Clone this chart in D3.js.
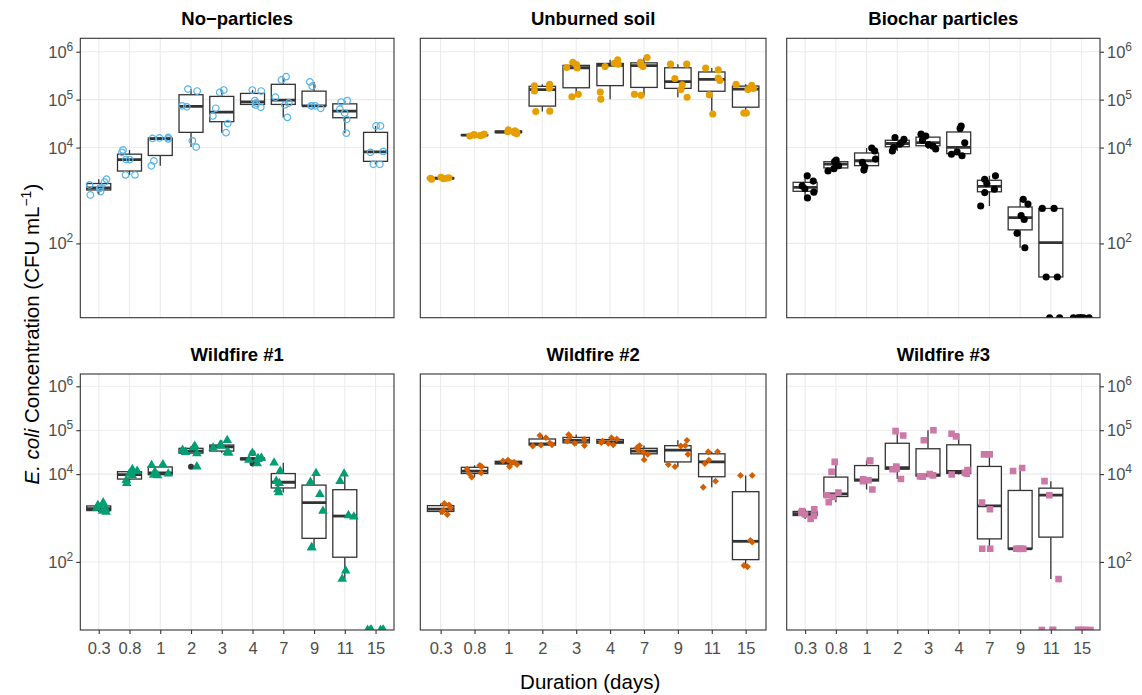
<!DOCTYPE html>
<html><head><meta charset="utf-8">
<script src="https://cdn.jsdelivr.net/npm/d3@7"></script>
<style>
body{margin:0;background:#fff}
svg{display:block}
text{font-family:"Liberation Sans",Arial,Helvetica,sans-serif}
</style>
</head><body>
<svg id="chart" width="1142" height="695"></svg>
<script>
// ---------------- data (log10 CFU mL^-1; null = zero count) ----------------
const days = ["0.3","0.8","1","2","3","4","7","9","11","15"];
const panelTitles = ["No\u2212particles","Unburned soil","Biochar particles","Wildfire #1","Wildfire #2","Wildfire #3"];

const noParticlesLog10 = [
  [3.34,3.28,3.22,3.16,3.15,3.08,3.01],
  [3.43,3.43,3.75,3.75,3.90,3.95],
  [3.62,3.72,4.18,4.19,4.20,4.21],
  [4.01,4.14,4.85,4.87,5.18,5.22],
  [4.31,4.50,4.66,4.82,5.15,5.20],
  [4.84,4.89,4.93,4.98,5.18,5.20],
  [4.63,4.89,4.93,5.05,5.41,5.48],
  [4.82,4.87,4.87,4.87,5.28,5.37],
  [4.30,4.59,4.72,4.80,4.95,4.98],
  [3.65,3.65,3.90,3.92,4.45,4.45]
];
const unburnedSoilLog10 = [
  [3.34,3.35,3.36,3.36,3.37,3.38],
  [4.24,4.25,4.26,4.26,4.27,4.28],
  [4.29,4.31,4.32,4.33,4.35,4.37],
  [4.75,4.76,5.18,5.24,5.29,5.32],
  [5.06,5.11,5.66,5.67,5.73,5.78],
  [5.01,5.16,5.69,5.74,5.76,5.83],
  [5.09,5.11,5.69,5.73,5.78,5.88],
  [5.05,5.21,5.31,5.44,5.74,5.74],
  [4.70,5.10,5.40,5.45,5.62,5.66],
  [4.72,4.72,5.21,5.23,5.30,5.32]
];
const biocharLog10 = [
  [2.95,3.07,3.14,3.20,3.30,3.41],
  [3.51,3.56,3.62,3.69,3.71,3.74],
  [3.53,3.60,3.69,3.76,3.93,3.99],
  [3.93,4.00,4.07,4.10,4.17,4.21],
  [3.97,4.03,4.06,4.15,4.24,4.28],
  [3.83,3.86,3.91,4.10,4.40,4.45],
  [2.78,3.06,3.13,3.25,3.34,3.41],
  [1.91,2.21,2.50,2.58,2.82,2.92],
  [1.30,1.30,2.73,2.73,null,null],
  [null,null,null,null,null,null]
];
const wildfire1Log10 = [
  [3.14,3.16,3.20,3.23,3.29,3.35],
  [3.79,3.86,3.97,4.01,4.07,4.11],
  [3.97,3.98,4.01,4.05,4.20,4.22],
  [4.17,4.47,4.50,4.55,4.60,4.64],
  [4.48,4.50,4.60,4.64,4.67,4.77],
  [4.24,4.32,4.34,4.36,4.37,4.48],
  [3.58,3.65,3.79,3.84,4.07,4.26],
  [2.33,2.33,3.16,3.54,3.82,4.02],
  [1.61,1.80,3.03,3.06,3.84,4.01],
  [null,null,null,null,null,null]
];
const wildfire2Log10 = [
  [3.08,3.14,3.18,3.23,3.30,3.33],
  [3.93,4.01,4.03,4.11,4.17,4.20],
  [4.17,4.22,4.26,4.27,4.30,4.32],
  [4.64,4.66,4.67,4.71,4.83,4.88],
  [4.65,4.70,4.75,4.79,4.85,4.90],
  [4.67,4.70,4.72,4.75,4.80,4.83],
  [4.33,4.45,4.50,4.55,4.60,4.65],
  [4.17,4.22,4.45,4.64,4.65,4.77],
  [3.70,3.84,4.24,4.32,4.51,4.51],
  [1.89,1.92,2.45,2.49,3.97,3.97]
];
const wildfire3Log10 = [
  [2.98,3.05,3.08,3.12,3.16,3.20],
  [3.36,3.48,3.52,3.58,4.05,4.28],
  [3.65,3.84,3.86,3.88,4.30,4.31],
  [3.89,4.11,4.12,4.17,4.88,4.98],
  [3.94,3.95,3.97,4.00,4.77,5.00],
  [3.99,4.01,4.03,4.09,4.86,4.92],
  [2.30,2.30,3.20,3.35,4.45,4.45],
  [2.30,2.30,2.30,2.30,4.07,4.14],
  [1.61,3.52,3.84,null,null,null],
  [null,null,null,null,null,null]
];
const panelData = [noParticlesLog10, unburnedSoilLog10, biocharLog10, wildfire1Log10, wildfire2Log10, wildfire3Log10];
const panelColors = ["#56B4E9","#E69F00","#000000","#009E73","#D55E00","#CC79A7"];
const yTickValues = [1e2, 1e4, 1e5, 1e6];
const yTickExponents = ["2","4","5","6"];

// ---------------- layout ----------------
const colX = [[80.3, 394], [420.3, 766], [786.7, 1100]];
const rowY = [[38.3, 317.7], [374, 630]];
const yDomain = [Math.pow(10, 0.45), Math.pow(10, 6.28)];
const boxColor = "#333333";
const gridColor = "#EBEBEB";
const tickTextColor = "#4D4D4D";

const svg = d3.select("#chart");
const defs = svg.append("defs");

function jit(p, c, i) {
  const s = Math.sin((p * 97 + c * 31 + i * 13 + 1) * 12.9898) * 43758.5453;
  return (s - Math.floor(s)) * 2 - 1;
}

const symbolFor = [
  {type: d3.symbolCircle, size: 34, fill: false},
  {type: d3.symbolCircle, size: 40, fill: true},
  {type: d3.symbolCircle, size: 40, fill: true},
  {type: d3.symbolTriangle, size: 40, fill: true},
  {type: d3.symbolDiamond2 || d3.symbolDiamond, size: 30, fill: true},
  {type: d3.symbolSquare, size: 44, fill: true}
];

panelData.forEach((groups, p) => {
  const row = Math.floor(p / 3), col = p % 3;
  const [x0, x1] = colX[col];
  const [y0, y1] = rowY[row];
  const x = d3.scalePoint().domain(days).range([x0, x1]).padding(0.6);
  const y = d3.scaleLog().domain(yDomain).range([y1, y0]);
  const step = x.step();
  const bw = step * 0.78;

  const g = svg.append("g");
  const clipId = "clip" + p;
  defs.append("clipPath").attr("id", clipId).append("rect")
    .attr("x", x0).attr("y", y0).attr("width", x1 - x0).attr("height", y1 - y0);

  // background
  g.append("rect").attr("x", x0).attr("y", y0).attr("width", x1 - x0).attr("height", y1 - y0).attr("fill", "#fff");
  // grid
  g.selectAll(".hg").data(yTickValues).join("line")
    .attr("x1", x0).attr("x2", x1).attr("y1", d => y(d)).attr("y2", d => y(d))
    .attr("stroke", gridColor).attr("stroke-width", 1.1);
  g.selectAll(".vg").data(days).join("line")
    .attr("x1", d => x(d)).attr("x2", d => x(d)).attr("y1", y0).attr("y2", y1)
    .attr("stroke", gridColor).attr("stroke-width", 1.1);

  const plot = g.append("g").attr("clip-path", `url(#${clipId})`);

  // boxplots
  groups.forEach((vals, c) => {
    const fin = vals.filter(v => v !== null).sort(d3.ascending);
    if (fin.length === 0) return;
    const q1 = d3.quantile(fin, 0.25), med = d3.quantile(fin, 0.5), q3 = d3.quantile(fin, 0.75);
    const iqr = q3 - q1;
    const lo = d3.min(fin.filter(v => v >= q1 - 1.5 * iqr - 1e-9));
    const hi = d3.max(fin.filter(v => v <= q3 + 1.5 * iqr + 1e-9));
    const outs = fin.filter(v => v < lo || v > hi);
    const cx = x(days[c]);
    const Y = v => y(Math.pow(10, v));
    plot.append("line").attr("x1", cx).attr("x2", cx).attr("y1", Y(hi)).attr("y2", Y(q3))
      .attr("stroke", boxColor).attr("stroke-width", 1.3);
    plot.append("line").attr("x1", cx).attr("x2", cx).attr("y1", Y(q1)).attr("y2", Y(lo))
      .attr("stroke", boxColor).attr("stroke-width", 1.3);
    plot.append("rect").attr("x", cx - bw / 2).attr("width", bw)
      .attr("y", Y(q3)).attr("height", Math.max(0, Y(q1) - Y(q3)))
      .attr("fill", "#fff").attr("stroke", boxColor).attr("stroke-width", 1.3);
    plot.append("line").attr("x1", cx - bw / 2).attr("x2", cx + bw / 2).attr("y1", Y(med)).attr("y2", Y(med))
      .attr("stroke", boxColor).attr("stroke-width", 2.8);
    outs.forEach(v => {
      plot.append("circle").attr("cx", cx).attr("cy", Y(v)).attr("r", 3).attr("fill", boxColor);
    });
  });

  // jittered points
  const sym = symbolFor[p];
  const shape = d3.symbol().type(sym.type).size(sym.size);
  groups.forEach((vals, c) => {
    vals.forEach((v, i) => {
      const px = x(days[c]) + jit(p, c, i) * step * 0.3;
      const py = v === null ? y1 : y(Math.pow(10, v));
      const path = plot.append("path").attr("d", shape())
        .attr("transform", `translate(${px},${py})`);
      if (sym.fill) path.attr("fill", panelColors[p]);
      else path.attr("fill", "none").attr("stroke", panelColors[p]).attr("stroke-width", 1.2);
    });
  });

  // border
  g.append("rect").attr("x", x0).attr("y", y0).attr("width", x1 - x0).attr("height", y1 - y0)
    .attr("fill", "none").attr("stroke", boxColor).attr("stroke-width", 1.1);

  // strip title
  svg.append("text").attr("x", (x0 + x1) / 2).attr("y", y0 - 13.5)
    .attr("text-anchor", "middle").attr("font-weight", "bold").attr("font-size", 18.5)
    .attr("fill", "#000").text(panelTitles[p]);

  // y axis (left on col 0, right on col 2)
  if (col === 0 || col === 2) {
    const left = col === 0;
    const ax = left ? d3.axisLeft(y) : d3.axisRight(y);
    ax.tickValues(yTickValues).tickSize(4).tickSizeOuter(0).tickFormat(() => "");
    const axg = svg.append("g").attr("transform", `translate(${left ? x0 : x1},0)`).call(ax);
    axg.select(".domain").remove();
    axg.selectAll(".tick line").attr("stroke", boxColor).attr("stroke-width", 1.1);
    yTickValues.forEach((t, k) => {
      const tx = svg.append("text")
        .attr("x", left ? x0 - 7 : x1 + 7).attr("y", y(t) + 6)
        .attr("text-anchor", left ? "end" : "start")
        .attr("font-size", 16.5).attr("fill", tickTextColor);
      tx.append("tspan").text("10");
      tx.append("tspan").attr("dy", -7).attr("font-size", 12).text(yTickExponents[k]);
    });
  }

  // x axis on bottom row
  if (row === 1) {
    const ax = d3.axisBottom(x).tickSize(4).tickSizeOuter(0);
    const axg = svg.append("g").attr("transform", `translate(0,${y1})`).call(ax);
    axg.select(".domain").remove();
    axg.selectAll(".tick line").attr("stroke", boxColor).attr("stroke-width", 1.1);
    axg.selectAll(".tick text").attr("fill", tickTextColor).attr("font-size", 16.5)
      .attr("font-family", "Liberation Sans, Arial, sans-serif").attr("dy", null).attr("y", 23.5);
  }
});

// axis titles
svg.append("text").attr("x", (colX[0][0] + colX[2][1]) / 2).attr("y", 689)
  .attr("text-anchor", "middle").attr("font-size", 20.5).attr("fill", "#000").text("Duration (days)");

const yt = svg.append("text")
  .attr("transform", `translate(39,${(rowY[0][0] + rowY[1][1]) / 2}) rotate(-90)`)
  .attr("text-anchor", "middle").attr("font-size", 20.5).attr("fill", "#000");
yt.append("tspan").attr("font-style", "italic").text("E. coli");
yt.append("tspan").text(" Concentration (CFU mL");
yt.append("tspan").attr("dy", -8).attr("font-size", 14).text("\u22121");
yt.append("tspan").attr("dy", 8).text(")");
</script>
</body></html>
